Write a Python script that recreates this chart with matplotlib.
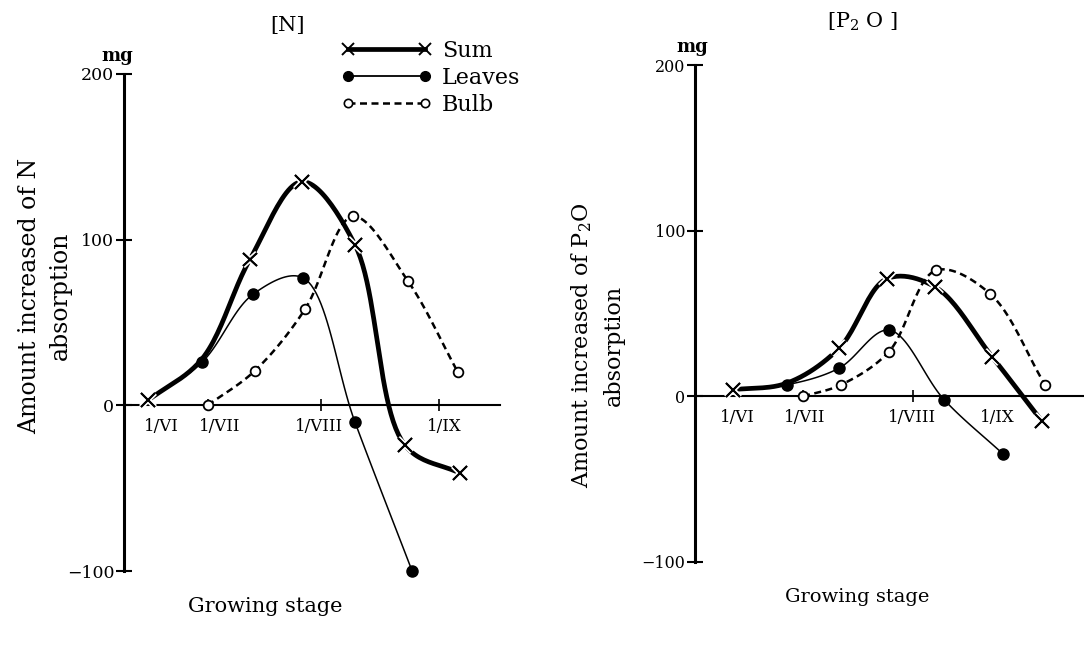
import numpy as np
import matplotlib
matplotlib.use("Agg")
import matplotlib.pyplot as plt
from matplotlib.lines import Line2D
import matplotlib.patheffects as pe

plt.rcParams['font.family'] = ['DejaVu Serif']
plt.rcParams['mathtext.fontset'] = 'dejavuserif'

# growing stage = sampling index (roughly every half month), values in mg
# (the sum curve at stage ~1 runs through the leaves point, no marker there)
n_sum_x = [0, 1.04, 1.96, 2.96, 3.98, 4.94, 6.0]
n_sum_y = [3, 28, 88, 135, 97, -24, -41]
n_leaves_x = [0, 1.04, 2.02, 2.98, 3.98, 5.08]
n_leaves_y = [3, 26, 67, 77, -10, -100]
n_bulb_x = [1.15, 2.06, 3.02, 3.94, 5.0, 5.96]
n_bulb_y = [0, 21, 58, 114, 75, 20]

p_sum_x = [0, 1.04, 2.04, 2.96, 3.89, 4.98, 5.94]
p_sum_y = [4, 8, 29, 71, 66, 24, -15]
p_leaves_x = [0, 1.04, 2.04, 3.0, 4.06, 5.2]
p_leaves_y = [4, 7, 17, 40, -2, -35]
p_bulb_x = [1.35, 2.08, 3.0, 3.9, 4.94, 6.0]
p_bulb_y = [0, 7, 27, 76, 62, 7]

month_labels = ['1/VI', '1/VII', '1/VIII', '1/IX']
n_month_pos = [0.25, 1.38, 3.29, 5.69]
n_month_tick = [1.15, 3.33, 5.6]
p_month_pos = [0.08, 1.38, 3.44, 5.08]
p_month_tick = [1.35, 3.46]
y_ticks = [-100, 0, 100, 200]
y_ticklabels = ['\u2212100', '0', '100', '200']

SUM_MARKS = [0, 2, 3, 4, 5, 6]
W, H = 1084, 645


def px(x, y):
    # pixel position -> figure fraction
    return x / W, 1 - y / H


def smooth(x, y, sx=52.0, sy=1.64, n=25):
    # centripetal catmull-rom through the points (only for drawing the curve)
    P = np.column_stack([np.asarray(x, float) * sx, np.asarray(y, float) * sy])
    P = np.vstack([2 * P[0] - P[1], P, 2 * P[-1] - P[-2]])
    out = []
    for i in range(1, len(P) - 2):
        p0, p1, p2, p3 = P[i - 1:i + 3]
        t0 = 0.0
        t1 = t0 + np.linalg.norm(p1 - p0) ** 0.5
        t2 = t1 + np.linalg.norm(p2 - p1) ** 0.5
        t3 = t2 + np.linalg.norm(p3 - p2) ** 0.5
        t = np.linspace(t1, t2, n)[:, None]
        A1 = (t1 - t) / (t1 - t0) * p0 + (t - t0) / (t1 - t0) * p1
        A2 = (t2 - t) / (t2 - t1) * p1 + (t - t1) / (t2 - t1) * p2
        A3 = (t3 - t) / (t3 - t2) * p2 + (t - t2) / (t3 - t2) * p3
        B1 = (t2 - t) / (t2 - t0) * A1 + (t - t0) / (t2 - t0) * A2
        B2 = (t3 - t) / (t3 - t1) * A2 + (t - t1) / (t3 - t1) * A3
        C = (t2 - t) / (t2 - t1) * B1 + (t - t1) / (t2 - t1) * B2
        out.append(C if i == 1 else C[1:])
    C = np.vstack(out)
    return C[:, 0] / sx, C[:, 1] / sy


def draw(ax, sx, sy, lx, ly, bx, by):
    xs, ys = smooth(bx, by)
    ax.plot(xs, ys, color='k', lw=1.8, dashes=(2.8, 1.8), clip_on=False)
    ax.plot(bx, by, 'o', ms=7, mfc='white', mec='k', mew=1.3, clip_on=False, zorder=4)
    xs, ys = smooth(lx, ly)
    ax.plot(xs, ys, color='k', lw=1.1, clip_on=False)
    ax.plot(lx, ly, 'o', ms=8, color='k', markevery=list(range(1, len(lx))),
            clip_on=False, zorder=4)
    xs, ys = smooth(sx, sy)
    ax.plot(xs, ys, color='k', lw=3.4, solid_capstyle='butt', clip_on=False)
    ax.plot(sx, sy, 'x', ms=10, mew=1.4, color='k', markevery=SUM_MARKS,
            clip_on=False, zorder=5,
            path_effects=[pe.withStroke(linewidth=4, foreground='white'), pe.Normal()])


def setup(ax, lbls_pos, ticks, ysize):
    ax.set_ylim(-100, 200)
    for s in ['top', 'right']:
        ax.spines[s].set_visible(False)
    ax.spines['bottom'].set_position(('data', 0))
    ax.spines['left'].set_linewidth(2.2)
    ax.spines['bottom'].set_linewidth(1.5)
    ax.set_yticks(y_ticks)
    ax.set_yticklabels(y_ticklabels)
    ax.tick_params(axis='y', direction='inout', length=12, width=1.5, labelsize=ysize, pad=1)
    ax.set_xticks(lbls_pos)
    ax.set_xticklabels(month_labels)
    ax.tick_params(axis='x', which='major', length=0, labelsize=12, pad=9)
    ax.set_xticks(ticks, minor=True)
    ax.tick_params(axis='x', which='minor', direction='inout', length=8, width=1.2)


fig = plt.figure(figsize=(W / 100, H / 100), dpi=100)

# left panel: N
ax1 = fig.add_axes([124 / W, 1 - 571 / H, 376 / W, 497 / H])
ax1.set_xlim(-0.46, 6.77)
setup(ax1, n_month_pos, n_month_tick, 12.5)
draw(ax1, n_sum_x, n_sum_y, n_leaves_x, n_leaves_y, n_bulb_x, n_bulb_y)

# right panel: P2O
ax2 = fig.add_axes([695 / W, 1 - 562 / H, 389 / W, 497 / H])
ax2.set_xlim(-0.73, 6.75)
setup(ax2, p_month_pos, p_month_tick, 11.5)
draw(ax2, p_sum_x, p_sum_y, p_leaves_x, p_leaves_y, p_bulb_x, p_bulb_y)

# titles, units, axis labels
fig.text(*px(287, 26), '[N]', ha='center', va='center', fontsize=15)
fig.text(*px(862, 22), '[P$_2$ O ]', ha='center', va='center', fontsize=15)
fig.text(*px(117, 56), 'mg', ha='center', va='center', fontsize=13, fontweight='bold')
fig.text(*px(692, 47), 'mg', ha='center', va='center', fontsize=13, fontweight='bold')

fig.text(*px(45, 296), 'Amount increased of N\nabsorption', rotation=90,
         ha='center', va='center', fontsize=17, linespacing=1.45, multialignment='center')
fig.text(*px(597, 345), 'Amount increased of P$_2$O\nabsorption', rotation=90,
         ha='center', va='center', fontsize=16, linespacing=1.5, multialignment='center')
fig.text(*px(265, 607), 'Growing stage', ha='center', va='center', fontsize=15)
fig.text(*px(857, 597), 'Growing stage', ha='center', va='center', fontsize=14)

# legend
handles = [
    Line2D([], [], color='k', lw=3.4, marker='x', ms=8, mew=1.4),
    Line2D([], [], color='k', lw=1.3, marker='o', ms=7),
    Line2D([], [], color='k', lw=1.8, dashes=(2.8, 1.8), marker='o', ms=6,
           mfc='white', mec='k', mew=1.2),
]
ax1.legend(handles, ['Sum', 'Leaves', 'Bulb'], loc='upper left',
           bbox_to_anchor=px(341, 40), bbox_transform=fig.transFigure,
           numpoints=2, frameon=False, handlelength=4.1, handletextpad=0.45,
           labelspacing=0.22, borderpad=0, borderaxespad=0, fontsize=16)

fig.savefig('out.png', dpi=100)
